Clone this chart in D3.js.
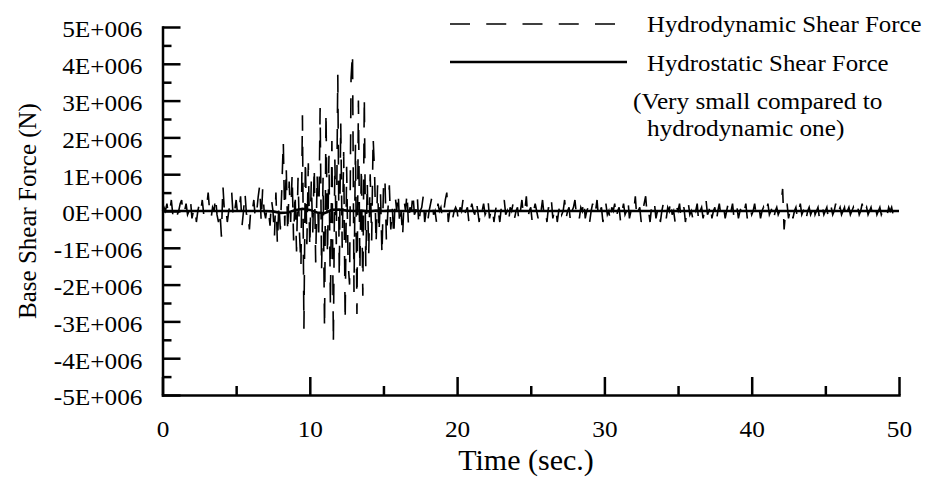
<!DOCTYPE html>
<html>
<head>
<meta charset="utf-8">
<script src="https://cdn.jsdelivr.net/npm/d3@7"></script>
<style>
  body { margin: 0; background: #fff; }
  svg text { font-family: "Liberation Serif", "Times New Roman", serif; fill: #000; }
</style>
</head>
<body>
<svg width="936" height="477"></svg>
<script>
// base shear force time history, values in units of 1E+005 N
var unit = 1e5;
var dynStep = 0.1;   // sec between hydrodynamic samples
var statStep = 0.5;  // sec between hydrostatic samples

var hydrodynamic = [
  0, 1, 0, 2, -1, 0, 3, -1, 0, 1,
  -1, 0, 2, 3, -1, 0, 2, -1, 0, 3,
  -2, 0, 1, -3, 0, 2, 0, 3, -1, 0,
  1, 5, 0, -2, 1, 0, 4, -1, -3, 0,
  -7, 7, 0, 1, -3, 0, 2, 5, -2, 0,
  3, -1, 0, 4, -4, 0, 5, -1, 0, -5,
  1, 0, 3, -2, 0, 4, 7, -3, 6, 0,
  -2, 1, 0, -4, 3, 0, -7, 5, -9, 2,
  -5, 6, 19, -4, 12, -6, 8, -3, 10, -8,
  5, -11, 9, -6, -15, 26, -32, 14, -9, 13,
  -10, 8, -6, 12, -14, 10, -8, 28, -16, 9,
  -32, 27, -12, 15, -26, 19, -36, 14, -9, 37,
  -18, 24, -10, 16, -30, 12, -14, -20, 36, 43,
  -22, 18, -28, 30, -16, 12, -23, 31, -15, 8,
  -12, 10, -8, 20, 10, -9, 7, -6, 5, -12,
  6, 9, -8, 0, 7, -5, 1, -7, 4, 0,
  5, -4, 0, -7, 3, 0, 5, -4, 1, 0,
  5, -1, 0, 4, -4, 0, 1, 4, -3, 0,
  -3, 0, 2, 4, -1, 0, -3, 2, 0, 1,
  -2, 0, 3, 5, -3, 0, 1, -2, 0, 1,
  0, -3, 1, 0, 3, -1, 0, 1, -3, 0,
  2, 0, -1, 3, 0, -3, 1, 0, 2, -1,
  0, 3, -2, 0, 1, -3, 0, 2, 0, -3,
  1, 0, 3, -1, 0, -3, 1, 0, 2, -2,
  0, 1, -3, 0, 3, -1, 0, 4, -2, 0,
  1, -3, 0, 2, 0, -2, 1, 0, 3, -1,
  0, -3, 1, 0, 3, -2, 0, 1, -3, 0,
  2, -1, 0, 3, -2, 0, 1, -3, 0, 1,
  3, -1, 0, -2, 1, 0, 3, -2, 0, 1,
  -3, 0, 2, -1, 0, 3, -2, 0, 1, -3,
  0, 2, -1, 0, -3, 1, 0, 2, -2, 0,
  1, -3, 0, 2, -1, 0, 3, -2, 0, 1,
  0, 4, -2, 0, 1, -3, 0, 2, 4, -1,
  0, -3, 1, 0, 2, -2, 0, 1, -3, 0,
  2, 0, -2, 1, 0, 3, -1, 0, -3, 1,
  0, 2, -2, 0, 1, -3, 0, 2, -1, 0,
  -2, 1, 0, 2, -3, 0, 1, -2, 0, 3,
  -1, 0, 2, -2, 0, 1, -3, 0, 2, -1,
  0, 1, -2, 0, 2, -1, 0, 2, -2, 0,
  1, -2, 0, 1, -1, 0, 2, -2, 0, 1,
  -1, 0, 2, -1, 0, 1, -2, 0, 1, -1,
  0, 2, -1, 0, 1, -2, 0, 1, -1, 0,
  2, 6, -5, 0, 2, -2, 0, 1, -2, 0,
  1, -2, 0, 2, -1, 0, 1, -2, 0, 1,
  -1, 0, 2, -1, 0, 1, -2, 0, 1, -1,
  0, 1, -2, 0, 1, -1, 0, 2, -1, 0,
  1, -1, 0, 1, -2, 0, 1, -1, 0, 1,
  -1, 0, 1, -1, 0, 2, -1, 0, 1, -1,
  0, 1, -1, 0, 1, -1, 0, 1, -1, 0,
  1, 0, -1, 1, 0, 1, -1, 0, 1, 0,
  0
];

var hydrostatic = [
  0, 0, 0, 0, 0, 0, 0, 0, 0, 0,
  0, 0, 0, 0, 0, -0.1, -0.5, -0.4, 0.2, 0.6,
  0.3, -0.4, -0.6, 0.3, 0.4, 0.1, 0, 0.1, -0.1, 0.1,
  0, 0.1, 0, 0, 0.1, 0, 0, 0, 0, 0,
  0, 0, 0, 0, 0, 0, 0, 0, 0, 0,
  0, 0, 0, 0, 0, 0, 0, 0, 0, 0,
  0, 0, 0, 0, 0, 0, 0, 0, 0, 0,
  0, 0, 0, 0, 0, 0, 0, 0, 0, 0,
  0, 0, 0, 0, 0, 0, 0, 0, 0, 0,
  0, 0, 0, 0, 0, 0, 0, 0, 0, 0,
  0
];

var yTickValues = [-5e6, -4e6, -3e6, -2e6, -1e6, 0, 1e6, 2e6, 3e6, 4e6, 5e6];
var yTickLabels = ["-5E+006", "-4E+006", "-3E+006", "-2E+006", "-1E+006", "0E+000",
  "1E+006", "2E+006", "3E+006", "4E+006", "5E+006"];
var yMinorTicks = [-4.5e6, -3.5e6, -2.5e6, -1.5e6, -0.5e6, 0.5e6, 1.5e6, 2.5e6, 3.5e6, 4.5e6];
var xTickValues = [0, 10, 20, 30, 40, 50];
var xMinorTicks = [5, 15, 25, 35, 45];

var legendNames = ["Hydrodynamic Shear Force", "Hydrostatic Shear Force"];
var legendNote = ["(Very small compared to", "hydrodynamic one)"];

var serif = "'Liberation Serif', 'Times New Roman', serif";

var svg = d3.select("svg");

var x = d3.scaleLinear().domain([0, 50]).range([162.5, 899]);
var y = d3.scaleLinear().domain([-5e6, 5e6]).range([395, 27]);

var dynData = hydrodynamic.map(function (v, i) {
  return { t: i * dynStep, f: v * unit };
});
var statData = hydrostatic.map(function (v, i) {
  return { t: i * statStep, f: v * unit };
});

// stretch text a bit wider, the source chart is not set in plain Times
var stretch = function (sel, k) {
  sel.each(function () {
    var w = this.getComputedTextLength();
    d3.select(this).attr("textLength", w * k).attr("lengthAdjust", "spacingAndGlyphs");
  });
};

var styleAxis = function (g) {
  g.attr("font-size", null).attr("font-family", serif);
  g.select(".domain").attr("stroke", "#000").attr("stroke-width", 2.5).attr("stroke-linecap", "square");
  g.selectAll(".tick line").attr("stroke", "#000").attr("stroke-width", 2.5);
};

// y axis
var gy = svg.append("g").attr("transform", "translate(" + x(0) + ",0)")
  .call(d3.axisLeft(y)
    .tickValues(yTickValues)
    .tickFormat(function (d, i) { return yTickLabels[i]; })
    .tickSizeInner(-18)
    .tickSizeOuter(0)
    .tickPadding(20));
styleAxis(gy);
gy.selectAll("text").attr("font-family", serif).attr("font-size", 23).attr("dy", "0.43em").call(stretch, 1.1);

svg.append("g").attr("transform", "translate(" + x(0) + ",0)")
  .call(d3.axisLeft(y).tickValues(yMinorTicks).tickFormat("").tickSizeInner(-9).tickSizeOuter(0))
  .call(styleAxis)
  .select(".domain").remove();

// x axis
var gx = svg.append("g").attr("transform", "translate(0," + y(-5e6) + ")")
  .call(d3.axisBottom(x)
    .tickValues(xTickValues)
    .tickFormat(d3.format("d"))
    .tickSizeInner(-18)
    .tickSizeOuter(0)
    .tickPadding(26));
styleAxis(gx);
gx.selectAll("text").attr("font-family", serif).attr("font-size", 23).call(stretch, 1.1);

svg.append("g").attr("transform", "translate(0," + y(-5e6) + ")")
  .call(d3.axisBottom(x).tickValues(xMinorTicks).tickFormat("").tickSizeInner(-9).tickSizeOuter(0))
  .call(styleAxis)
  .select(".domain").remove();

// axis titles
svg.append("text")
  .attr("x", 526).attr("y", 470)
  .attr("text-anchor", "middle")
  .attr("font-family", serif)
  .attr("font-size", 30)
  .text("Time (sec.)");

svg.append("text")
  .attr("transform", "translate(36,211) rotate(-90)")
  .attr("text-anchor", "middle")
  .attr("font-family", serif)
  .attr("font-size", 25)
  .text("Base Shear Force (N)");

// series
var line = d3.line()
  .x(function (d) { return x(d.t); })
  .y(function (d) { return y(d.f); });

svg.append("path")
  .datum(dynData)
  .attr("fill", "none")
  .attr("stroke", "#000")
  .attr("stroke-width", 1.6)
  .attr("stroke-dasharray", "20,16")
  .attr("d", line);

svg.append("path")
  .datum(statData)
  .attr("fill", "none")
  .attr("stroke", "#000")
  .attr("stroke-width", 2.6)
  .attr("d", line);

// legend
var legend = svg.append("g").attr("font-family", serif);
legend.append("line")
  .attr("x1", 450).attr("x2", 615).attr("y1", 24).attr("y2", 24)
  .attr("stroke", "#000").attr("stroke-width", 1.6).attr("stroke-dasharray", "20,16.25");
legend.append("line")
  .attr("x1", 450).attr("x2", 627).attr("y1", 62).attr("y2", 62)
  .attr("stroke", "#000").attr("stroke-width", 2.6);

legend.selectAll("text.name")
  .data(legendNames)
  .enter()
  .append("text")
  .attr("class", "name")
  .attr("x", 647)
  .attr("y", function (d, i) { return 32 + i * 39; })
  .attr("font-family", serif)
  .attr("font-size", 23)
  .text(function (d) { return d; })
  .call(stretch, 1.08);

legend.selectAll("text.note")
  .data(legendNote)
  .enter()
  .append("text")
  .attr("class", "note")
  .attr("x", function (d, i) { return i ? 647 : 633; })
  .attr("y", function (d, i) { return 109 + i * 27; })
  .attr("font-family", serif)
  .attr("font-size", 23)
  .text(function (d) { return d; })
  .call(stretch, 1.1);
</script>
</body>
</html>
